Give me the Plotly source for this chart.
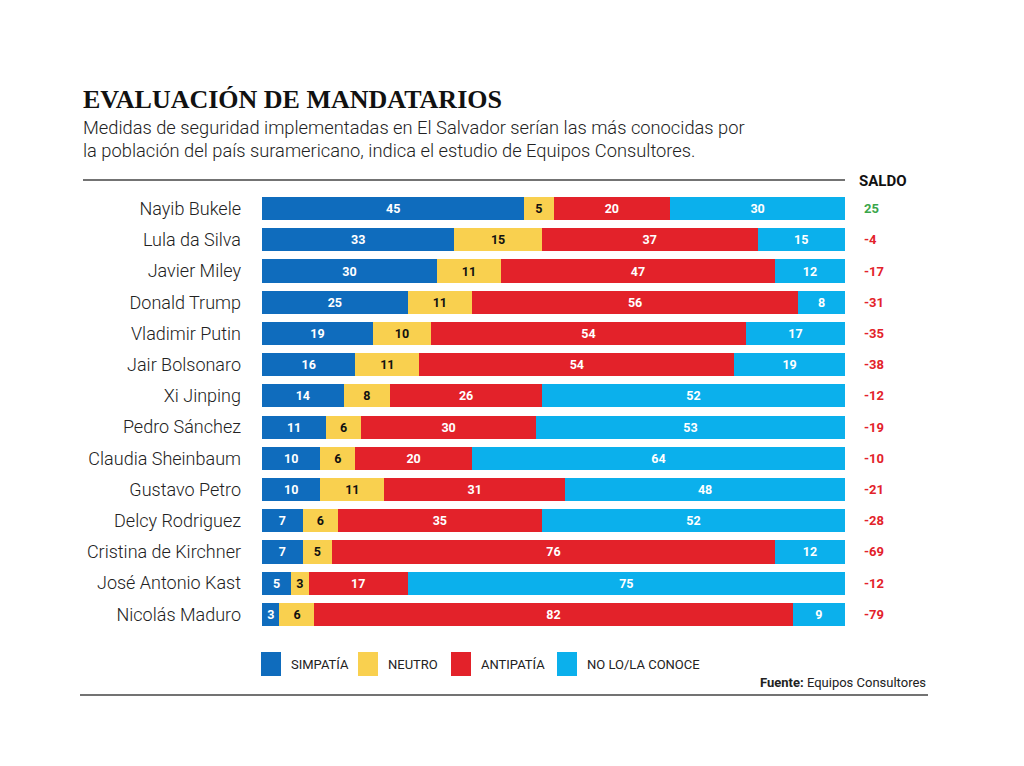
import plotly.graph_objects as go

# Datos (porcentajes)
leaders = [
    "Nayib Bukele", "Lula da Silva", "Javier Miley", "Donald Trump",
    "Vladimir Putin", "Jair Bolsonaro", "Xi Jinping", "Pedro Sánchez",
    "Claudia Sheinbaum", "Gustavo Petro", "Delcy Rodriguez",
    "Cristina de Kirchner", "José Antonio Kast", "Nicolás Maduro",
]
simpatia = [45, 33, 30, 25, 19, 16, 14, 11, 10, 10, 7, 7, 5, 3]
neutro = [5, 15, 11, 11, 10, 11, 8, 6, 6, 11, 6, 5, 3, 6]
antipatia = [20, 37, 47, 56, 54, 54, 26, 30, 20, 31, 35, 76, 17, 82]
no_conoce = [30, 15, 12, 8, 17, 19, 52, 53, 64, 48, 52, 12, 75, 9]
saldo = [25, -4, -17, -31, -35, -38, -12, -19, -10, -21, -28, -69, -12, -79]

series_names = ["SIMPATÍA", "NEUTRO", "ANTIPATÍA", "NO LO/LA CONOCE"]
series_values = [simpatia, neutro, antipatia, no_conoce]
series_colors = ["#0f6cbd", "#f9d04f", "#e3222a", "#0bb0ec"]
text_colors = ["white", "#111111", "white", "white"]

FONT = "Roboto"
W, H = 1024, 766
# la pagina deja 8px de margen del body; se compensa aqui
OFF = 8
L, R, T, B = 262 - OFF, W - 845 + OFF, 193 - OFF, H - 630 + OFF
PW, PH = W - L - R, H - T - B

fig = go.Figure()

for name, vals, color, tcolor in zip(series_names, series_values, series_colors, text_colors):
    fig.add_trace(go.Bar(
        y=leaders,
        x=vals,
        name=name,
        orientation="h",
        marker=dict(color=color, line=dict(width=0)),
        text=vals,
        textposition="inside",
        insidetextanchor="middle",
        textfont=dict(family=FONT, size=12.5, color=tcolor, weight="bold"),
        showlegend=False,
    ))

fig.update_layout(
    width=W,
    height=H,
    barmode="stack",
    bargap=0.26,
    margin=dict(l=L, r=R, t=T, b=B),
    paper_bgcolor="white",
    plot_bgcolor="white",
    uniformtext=dict(minsize=12, mode="show"),
    xaxis=dict(range=[0, 100], visible=False, fixedrange=True),
    yaxis=dict(
        autorange="reversed",
        showgrid=False,
        zeroline=False,
        showline=False,
        ticks="",
        ticklabelstandoff=20,
        tickfont=dict(family=FONT, size=18, color="#222222", weight=300),
    ),
)

# Columna de saldo
for name, s in zip(leaders, saldo):
    fig.add_annotation(
        x=1.03, y=name, xref="paper", yref="y",
        text=str(s), showarrow=False, xanchor="left",
        font=dict(family=FONT, size=13, weight="bold",
                  color="#3aa64a" if s > 0 else "#e3222a"),
    )


def px_x(x):
    # pixel de la imagen de referencia -> coordenada paper
    return (x - OFF - L) / PW


def px_y(y):
    return (H - B - (y - OFF)) / PH


def px_annot(x, y, text, font, xanchor="left"):
    fig.add_annotation(
        xref="paper", yref="paper", x=px_x(x), y=px_y(y),
        text=text, showarrow=False, xanchor=xanchor, yanchor="middle",
        font=font,
    )


def px_rect(x0, y0, x1, y1, color):
    fig.add_shape(
        type="rect", xref="paper", yref="paper",
        x0=px_x(x0), x1=px_x(x1), y0=px_y(y0), y1=px_y(y1),
        fillcolor=color, line=dict(width=0),
    )


def px_line(x0, x1, y, color, width):
    fig.add_shape(
        type="line", xref="paper", yref="paper",
        x0=px_x(x0), x1=px_x(x1), y0=px_y(y), y1=px_y(y),
        line=dict(color=color, width=width),
    )


# Titulo y subtitulo
px_annot(81, 99, "EVALUACIÓN DE MANDATARIOS",
         dict(family="Liberation Serif", size=26, color="#111111", weight="bold"))
px_annot(81, 128, "Medidas de seguridad implementadas en El Salvador serían las más conocidas por",
         dict(family=FONT, size=18.3, color="#222222", weight=300))
px_annot(81, 150, "la población del país suramericano, indica el estudio de Equipos Consultores.",
         dict(family=FONT, size=18.3, color="#222222", weight=300))
px_annot(857, 181, "SALDO", dict(family=FONT, size=15, color="#111111", weight="bold"))

px_line(83, 845, 180, "#444444", 1.3)
px_line(80, 928, 695, "#444444", 1.3)

# Leyenda manual
legend_x = [261, 358, 451, 557]
for lx, name, color in zip(legend_x, series_names, series_colors):
    px_rect(lx, 652, lx + 20, 676, color)
    px_annot(lx + 28, 664, name, dict(family=FONT, size=13, color="#222222"))

px_annot(928, 682, "<b>Fuente:</b> Equipos Consultores",
         dict(family=FONT, size=13, color="#222222"), xanchor="right")

fig.write_html("out.html")
